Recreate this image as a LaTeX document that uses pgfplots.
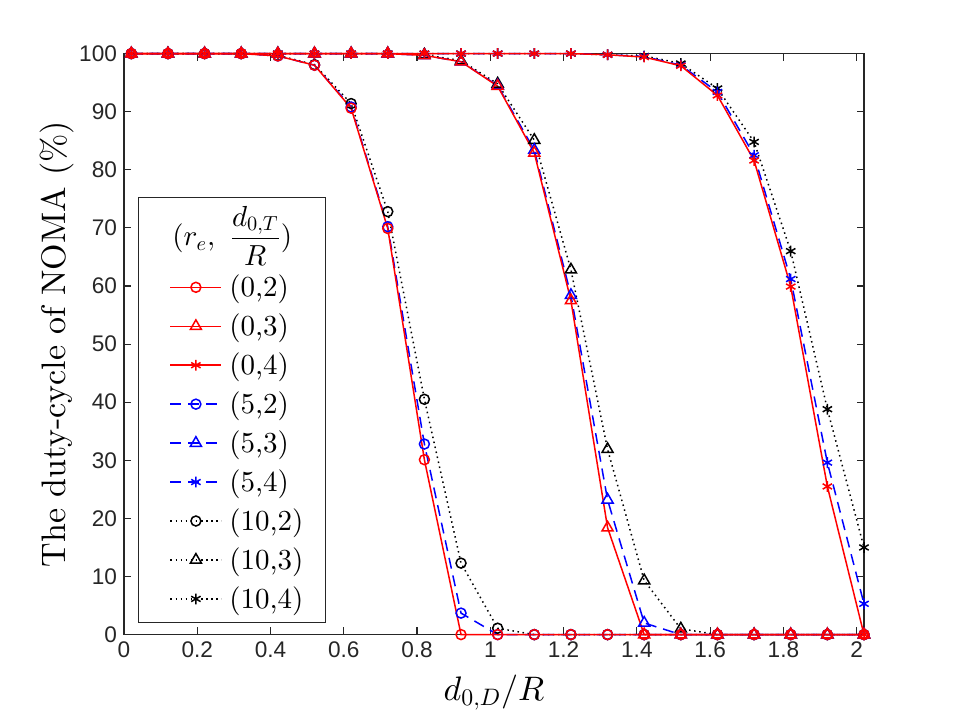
\documentclass[border=0pt]{standalone}
\usepackage{fontspec}
\setmainfont{lmroman10-regular.otf}[ItalicFont=lmroman10-italic.otf, BoldFont=lmroman10-bold.otf]
\DeclareFontFamily{OML}{cmm}{\skewchar\font'177}
\DeclareFontShape{OML}{cmm}{m}{it}{<->cmmi10}{}
\DeclareFontFamily{OT1}{cmr}{\hyphenchar\font45}
\DeclareFontShape{OT1}{cmr}{m}{n}{<->cmr10}{}
\DeclareFontFamily{OMS}{cmsy}{\skewchar\font'60}
\DeclareFontShape{OMS}{cmsy}{m}{n}{<->cmsy10}{}
\usepackage{pgfplots}
\usepackage{pgfplotstable}
\pgfplotsset{compat=1.18}
\newfontfamily\tickfont{Liberation Sans}
\definecolor{axgray}{RGB}{38,38,38}
\pgfplotstableread{
x r2 r3 r4
0.02 100 100 100
0.12 100 100 100
0.22 100 100 100
0.32 100 100 100
0.42 99.6 100 100
0.52 98.0 100 100
0.62 90.6 100 100
0.72 69.9 100 100
0.82 30.1 99.7 100
0.92 0 98.6 100
1.02 0 94.4 100
1.12 0 82.9 100
1.22 0 57.5 100
1.32 0 18.4 99.8
1.42 0 0 99.4
1.52 0 0 97.9
1.62 0 0 92.8
1.72 0 0 81.6
1.82 0 0 59.9
1.92 0 0 25.5
2.02 0 0 0
}\redtab
\pgfplotstableread{
x b2 b3 b4
0.02 100 100 100
0.12 100 100 100
0.22 100 100 100
0.32 100 100 100
0.42 99.6 100 100
0.52 98.0 100 100
0.62 90.8 100 100
0.72 70.2 100 100
0.82 32.8 99.7 100
0.92 3.7 98.6 100
1.02 0 94.5 100
1.12 0 83.4 100
1.22 0 58.4 100
1.32 0 23.2 99.8
1.42 0 2.0 99.5
1.52 0 0 98.0
1.62 0 0 93.4
1.72 0 0 82.5
1.82 0 0 61.2
1.92 0 0 29.6
2.02 0 0 5.3
}\bluetab
\pgfplotstableread{
x k2 k3 k4
0.02 100 100 100
0.12 100 100 100
0.22 100 100 100
0.32 100 100 100
0.42 99.7 100 100
0.52 98.1 100 100
0.62 91.4 100 100
0.72 72.8 100 100
0.82 40.5 99.8 100
0.92 12.3 98.8 100
1.02 1.1 94.8 100
1.12 0 85.1 100
1.22 0 62.8 100
1.32 0 31.9 99.8
1.42 0 9.3 99.6
1.52 0 1.0 98.3
1.62 0 0 94.0
1.72 0 0 84.8
1.82 0 0 66.0
1.92 0 0 38.8
2.02 0 0 15.0
}\blacktab
\begin{document}
\begin{tikzpicture}
\useasboundingbox (-62pt,-39.2pt) rectangle (415.5pt,317.3pt);
\begin{axis}[
  scale only axis, width=370pt, height=290.5pt,
  xmin=0, xmax=2.02, ymin=0, ymax=100,
  xtick={0,0.2,0.4,0.6,0.8,1,1.2,1.4,1.6,1.8,2},
  ytick={0,10,20,30,40,50,60,70,80,90,100},
  clip=false,
  axis line style={axgray, line width=0.6pt},
  every tick/.style={axgray, line width=0.6pt},
  major tick length=3.7pt, tick align=inside,
  ticklabel style={font=\tickfont\fontsize{11.3}{13}\selectfont, text=axgray},
  /pgf/number format/assume math mode=true,
  xlabel={$d_{0,D}/R$},
  ylabel={The duty-cycle of NOMA (\%)},
  label style={font=\fontsize{17}{20}\selectfont},
  xlabel style={at={(axis description cs:0.5,0)}, yshift=-32.7pt, anchor=base},
  ylabel style={at={(axis description cs:-0.0797,0.5)}, anchor=base},
  every axis plot/.append style={line width=0.75pt},
  reverse legend,
  legend style={at={(0.019,0.02)}, anchor=south west, draw=axgray, line width=0.6pt,
    fill=white, font=\fontsize{14.5}{17.5}\selectfont, inner xsep=7.6pt, inner ysep=2pt,
    nodes={inner sep=3.55pt}, cells={anchor=west}},
  legend image code/.code={\path (0pt,0pt) -- (0pt,0pt);
    \draw[mark repeat=2,mark phase=2] plot coordinates {(7.9pt,0pt) (20.65pt,0pt) (33.4pt,0pt)};},
]
% black dotted
\addplot[color=black, draw=black, dash pattern=on 0.75pt off 1.8pt, mark=asterisk, mark size=2.7pt, mark options={solid, draw=black}] table[x=x,y=k4] {\blacktab};
\addlegendentry{(10,4)}
\addplot[color=black, draw=black, dash pattern=on 0.75pt off 1.8pt, mark=triangle, mark size=3.2pt, mark options={solid, draw=black}] table[x=x,y=k3] {\blacktab};
\addlegendentry{(10,3)}
\addplot[color=black, draw=black, dash pattern=on 0.75pt off 1.8pt, mark=o, mark size=2.5pt, mark options={solid, draw=black}] table[x=x,y=k2] {\blacktab};
\addlegendentry{(10,2)}
% blue dashed
\addplot[color=blue, draw=blue, dash pattern=on 5.5pt off 3.5pt, mark=asterisk, mark size=2.7pt, mark options={solid, draw=blue}] table[x=x,y=b4] {\bluetab};
\addlegendentry{(5,4)}
\addplot[color=blue, draw=blue, dash pattern=on 5.5pt off 3.5pt, mark=triangle, mark size=3.2pt, mark options={solid, draw=blue}] table[x=x,y=b3] {\bluetab};
\addlegendentry{(5,3)}
\addplot[color=blue, draw=blue, dash pattern=on 5.5pt off 3.5pt, mark=o, mark size=2.5pt, mark options={solid, draw=blue}] table[x=x,y=b2] {\bluetab};
\addlegendentry{(5,2)}
% red solid
\addplot[color=red, draw=red, solid, mark=asterisk, mark size=2.7pt, mark options={draw=red}] table[x=x,y=r4] {\redtab};
\addlegendentry{(0,4)}
\addplot[color=red, draw=red, solid, mark=triangle, mark size=3.2pt, mark options={draw=red}] table[x=x,y=r3] {\redtab};
\addlegendentry{(0,3)}
\addplot[color=red, draw=red, solid, mark=o, mark size=2.5pt, mark options={draw=red}] table[x=x,y=r2] {\redtab};
\addlegendentry{(0,2)}
\addlegendimage{empty legend}
\addlegendentry{\hspace*{1.5pt}\makebox[0pt][c]{\raisebox{6pt}[24.5pt][9.95pt]{$\displaystyle (r_e,\ \frac{d_{0,T}}{R})$}}}
\end{axis}
\end{tikzpicture}
\end{document}
